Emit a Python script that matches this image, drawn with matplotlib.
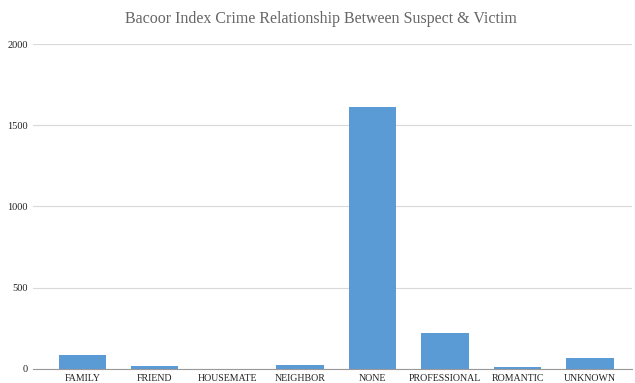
import numpy as np
import matplotlib.pyplot as plt

categories = ["FAMILY", "FRIEND", "HOUSEMATE", "NEIGHBOR", "NONE",
              "PROFESSIONAL", "ROMANTIC", "UNKNOWN"]
counts = [86, 18, 0, 22, 1612, 221, 12, 66]
yticks = [0, 500, 1000, 1500, 2000]

plt.rcParams['font.family'] = ['Liberation Serif', 'DejaVu Serif']

fig = plt.figure(figsize=(6.35, 3.83), dpi=100)
ax = fig.add_axes([0.0515, 0.0375, 0.9435, 0.847])

x = np.arange(len(categories))
ax.bar(x, counts, width=0.652, color='#5b9bd5', zorder=3)

ax.set_xlim(-0.683, 7.575)
ax.set_ylim(0, 2000)
ax.set_yticks(yticks)
ax.set_xticks(x)
ax.set_xticklabels(categories, fontsize=7.1, color='#222222')
ax.tick_params(axis='y', labelsize=7.5, labelcolor='#222222', length=0, pad=3.5)
ax.tick_params(axis='x', length=0, pad=4)
ax.grid(axis='y', color='#d9d9d9', linewidth=0.8, zorder=0)
for s in ['top', 'right', 'left']:
    ax.spines[s].set_visible(False)
ax.spines['bottom'].set_color('#999999')
ax.spines['bottom'].set_zorder(4)

fig.text(0.506, 0.94, "Bacoor Index Crime Relationship Between Suspect & Victim",
         ha='center', va='baseline', fontsize=11.5, color='#666666')

fig.savefig('out.png', dpi=100)
